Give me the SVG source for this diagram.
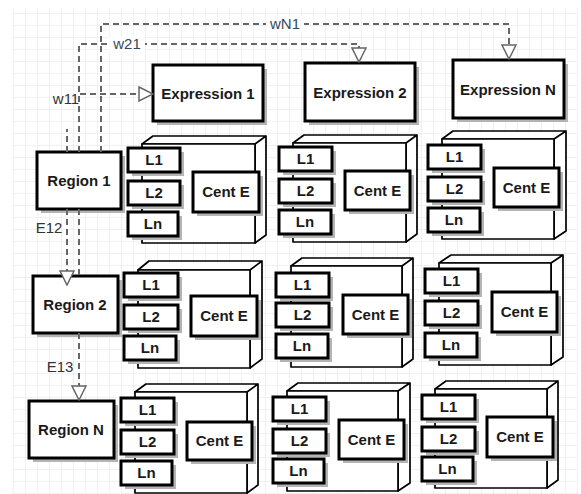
<svg xmlns="http://www.w3.org/2000/svg" width="581" height="494" viewBox="0 0 581 494">
<style>
.bx{fill:#fff;stroke:#000;stroke-width:3}
.sh{fill:#b4b4b4}
.cb{fill:#fff;stroke:#000;stroke-width:1.7;stroke-linejoin:round}
.t{font-family:"Liberation Sans",Arial,sans-serif;font-weight:bold;font-size:15px;text-anchor:middle;fill:#1a1a1a}
.e{fill:none;stroke:#666;stroke-width:2;stroke-dasharray:6 4}
.el{font-family:"Liberation Sans",Arial,sans-serif;font-size:15px;text-anchor:middle}
.bl{fill:#34495e}
.dk{fill:#333}
</style>
<defs>
<pattern id="grid" x="1" y="1" width="12" height="12" patternUnits="userSpaceOnUse">
<path d="M0,0H12M0,0V12" fill="none" stroke="#e4e4ec" stroke-width="1"/>
</pattern>
<marker id="tri" viewBox="0 0 16 16" refX="15" refY="8" markerWidth="16" markerHeight="16" markerUnits="userSpaceOnUse" orient="auto">
<path d="M1,1 L15,8 L1,15 Z" fill="#fff" stroke="#666" stroke-width="1.5"/>
</marker>
</defs>
<rect width="581" height="494" fill="#fff"/>
<rect x="12" y="8" width="566" height="486" fill="url(#grid)"/>

<g id="expr1"><rect class="sh" x="157" y="69" width="110" height="56"/><rect class="bx" x="153" y="65" width="110" height="56"/><text class="t" x="208" y="99">Expression 1</text></g>
<g id="expr2"><rect class="sh" x="309" y="67" width="110" height="58"/><rect class="bx" x="305" y="63" width="110" height="58"/><text class="t" x="360" y="98">Expression 2</text></g>
<g id="exprN"><rect class="sh" x="457" y="64" width="111" height="58"/><rect class="bx" x="453" y="60" width="111" height="58"/><text class="t" x="508" y="95">Expression N</text></g>

<g id="region1"><rect class="sh" x="41" y="156" width="84" height="57"/><rect class="bx" x="37" y="152" width="84" height="57"/><text class="t" x="79" y="186">Region 1</text></g>
<g id="region2"><rect class="sh" x="37" y="280" width="85" height="57"/><rect class="bx" x="33" y="276" width="85" height="57"/><text class="t" x="75" y="310">Region 2</text></g>
<g id="regionN"><rect class="sh" x="33" y="405" width="85" height="57"/><rect class="bx" x="29" y="401" width="85" height="57"/><text class="t" x="71" y="435">Region N</text></g>

<g id="cube11">
<path class="cb" d="M142,144 L153,136 L266,136 L255,144 Z M255,144 L266,136 L266,235 L255,243 Z"/><rect class="cb" x="142" y="144" width="113" height="99"/>
<rect class="sh" x="132" y="152" width="52" height="24"/><rect class="bx" x="128" y="148" width="52" height="24"/><text class="t" x="154" y="165">L1</text>
<rect class="sh" x="132" y="185" width="52" height="24"/><rect class="bx" x="128" y="181" width="52" height="24"/><text class="t" x="154" y="198">L2</text>
<rect class="sh" x="132" y="216" width="50" height="24"/><rect class="bx" x="128" y="212" width="50" height="24"/><text class="t" x="153" y="229">Ln</text>
<rect class="sh" x="197" y="176" width="66" height="40"/><rect class="bx" x="193" y="172" width="66" height="40"/><text class="t" x="226" y="197">Cent E</text>
</g>
<g id="cube12">
<path class="cb" d="M293,143 L304,135 L417,135 L406,143 Z M406,143 L417,135 L417,234 L406,242 Z"/><rect class="cb" x="293" y="143" width="113" height="99"/>
<rect class="sh" x="283" y="151" width="53" height="24"/><rect class="bx" x="279" y="147" width="53" height="24"/><text class="t" x="305.5" y="164">L1</text>
<rect class="sh" x="283" y="183" width="53" height="24"/><rect class="bx" x="279" y="179" width="53" height="24"/><text class="t" x="305.5" y="196">L2</text>
<rect class="sh" x="283" y="214" width="52" height="24"/><rect class="bx" x="279" y="210" width="52" height="24"/><text class="t" x="305" y="227">Ln</text>
<rect class="sh" x="349" y="175" width="65" height="39"/><rect class="bx" x="345" y="171" width="65" height="39"/><text class="t" x="377.5" y="196">Cent E</text>
</g>
<g id="cube13">
<path class="cb" d="M442,139 L453,131 L566,131 L554,139 Z M554,139 L566,131 L566,231 L554,239 Z"/><rect class="cb" x="442" y="139" width="112" height="100"/>
<rect class="sh" x="432" y="149" width="53" height="24"/><rect class="bx" x="428" y="145" width="53" height="24"/><text class="t" x="454.5" y="162">L1</text>
<rect class="sh" x="432" y="181" width="53" height="24"/><rect class="bx" x="428" y="177" width="53" height="24"/><text class="t" x="454.5" y="194">L2</text>
<rect class="sh" x="432" y="212" width="52" height="24"/><rect class="bx" x="428" y="208" width="52" height="24"/><text class="t" x="454" y="225">Ln</text>
<rect class="sh" x="498" y="172" width="65" height="39"/><rect class="bx" x="494" y="168" width="65" height="39"/><text class="t" x="526.5" y="193">Cent E</text>
</g>

<g id="cube21">
<path class="cb" d="M138,270 L149,261 L262,261 L250,270 Z M250,270 L262,261 L262,359 L250,368 Z"/><rect class="cb" x="138" y="270" width="112" height="98"/>
<rect class="sh" x="128" y="277" width="54" height="24"/><rect class="bx" x="124" y="273" width="54" height="24"/><text class="t" x="151" y="290">L1</text>
<rect class="sh" x="128" y="309" width="54" height="24"/><rect class="bx" x="124" y="305" width="54" height="24"/><text class="t" x="151" y="322">L2</text>
<rect class="sh" x="128" y="340" width="52" height="24"/><rect class="bx" x="124" y="336" width="52" height="24"/><text class="t" x="150" y="353">Ln</text>
<rect class="sh" x="195" y="300" width="66" height="40"/><rect class="bx" x="191" y="296" width="66" height="40"/><text class="t" x="224" y="321">Cent E</text>
</g>
<g id="cube22">
<path class="cb" d="M291,266 L302,258 L413,258 L402,266 Z M402,266 L413,258 L413,359 L402,367 Z"/><rect class="cb" x="291" y="266" width="111" height="101"/>
<rect class="sh" x="280" y="277" width="53" height="24"/><rect class="bx" x="276" y="273" width="53" height="24"/><text class="t" x="302.5" y="290">L1</text>
<rect class="sh" x="280" y="307" width="53" height="24"/><rect class="bx" x="276" y="303" width="53" height="24"/><text class="t" x="302.5" y="320">L2</text>
<rect class="sh" x="280" y="338" width="52" height="24"/><rect class="bx" x="276" y="334" width="52" height="24"/><text class="t" x="302" y="351">Ln</text>
<rect class="sh" x="347" y="299" width="65" height="39"/><rect class="bx" x="343" y="295" width="65" height="39"/><text class="t" x="375.5" y="320">Cent E</text>
</g>
<g id="cube23">
<path class="cb" d="M439,263 L451,255 L563,255 L551,263 Z M551,263 L563,255 L563,357 L551,365 Z"/><rect class="cb" x="439" y="263" width="112" height="102"/>
<rect class="sh" x="429" y="273" width="53" height="24"/><rect class="bx" x="425" y="269" width="53" height="24"/><text class="t" x="451.5" y="286">L1</text>
<rect class="sh" x="429" y="305" width="53" height="24"/><rect class="bx" x="425" y="301" width="53" height="24"/><text class="t" x="451.5" y="318">L2</text>
<rect class="sh" x="429" y="337" width="52" height="24"/><rect class="bx" x="425" y="333" width="52" height="24"/><text class="t" x="451" y="350">Ln</text>
<rect class="sh" x="496" y="296" width="65" height="40"/><rect class="bx" x="492" y="292" width="65" height="40"/><text class="t" x="524.5" y="317">Cent E</text>
</g>

<g id="cube31">
<path class="cb" d="M135,392 L146,384 L258,384 L247,392 Z M247,392 L258,384 L258,485 L247,493 Z"/><rect class="cb" x="135" y="392" width="112" height="101"/>
<rect class="sh" x="125" y="402" width="53" height="24"/><rect class="bx" x="121" y="398" width="53" height="24"/><text class="t" x="147.5" y="415">L1</text>
<rect class="sh" x="125" y="434" width="53" height="24"/><rect class="bx" x="121" y="430" width="53" height="24"/><text class="t" x="147.5" y="447">L2</text>
<rect class="sh" x="125" y="465" width="51" height="24"/><rect class="bx" x="121" y="461" width="51" height="24"/><text class="t" x="146.5" y="478">Ln</text>
<rect class="sh" x="191" y="426" width="65" height="38"/><rect class="bx" x="187" y="422" width="65" height="38"/><text class="t" x="219.5" y="446">Cent E</text>
</g>
<g id="cube32">
<path class="cb" d="M287,391 L298,383 L410,383 L398,391 Z M398,391 L410,383 L410,483 L398,491 Z"/><rect class="cb" x="287" y="391" width="111" height="100"/>
<rect class="sh" x="277" y="401" width="53" height="24"/><rect class="bx" x="273" y="397" width="53" height="24"/><text class="t" x="299.5" y="414">L1</text>
<rect class="sh" x="277" y="433" width="53" height="24"/><rect class="bx" x="273" y="429" width="53" height="24"/><text class="t" x="299.5" y="446">L2</text>
<rect class="sh" x="277" y="463" width="51" height="24"/><rect class="bx" x="273" y="459" width="51" height="24"/><text class="t" x="298.5" y="476">Ln</text>
<rect class="sh" x="343" y="424" width="65" height="39"/><rect class="bx" x="339" y="420" width="65" height="39"/><text class="t" x="371.5" y="445">Cent E</text>
</g>
<g id="cube33">
<path class="cb" d="M435,389 L446,381 L558,381 L547,389 Z M547,389 L558,381 L558,480 L547,488 Z"/><rect class="cb" x="435" y="389" width="112" height="99"/>
<rect class="sh" x="426" y="399" width="53" height="24"/><rect class="bx" x="422" y="395" width="53" height="24"/><text class="t" x="448.5" y="412">L1</text>
<rect class="sh" x="426" y="431" width="53" height="24"/><rect class="bx" x="422" y="427" width="53" height="24"/><text class="t" x="448.5" y="444">L2</text>
<rect class="sh" x="426" y="461" width="51" height="24"/><rect class="bx" x="422" y="457" width="51" height="24"/><text class="t" x="447.5" y="474">Ln</text>
<rect class="sh" x="491" y="421" width="66" height="40"/><rect class="bx" x="487" y="417" width="66" height="40"/><text class="t" x="520" y="442">Cent E</text>
</g>

<g id="connectors">
<path class="e" d="M101,152 V24 H509 V59" marker-end="url(#tri)"/>
<path class="e" d="M79,152 V44 H359 V62" marker-end="url(#tri)"/>
<path class="e" d="M67,152 V129"/>
<path class="e" d="M80,94 H153" marker-end="url(#tri)"/>
<path class="e" d="M67,209 V285" marker-end="url(#tri)"/>
<path class="e" d="M79,209 V276 M79,333 V400" marker-end="url(#tri)"/>
<rect x="266" y="16" width="38" height="16" fill="#fff"/>
<text class="el bl" x="285" y="29">wN1</text>
<rect x="109" y="36" width="36" height="16" fill="#fff"/>
<text class="el bl" x="127" y="49">w21</text>
<rect x="51" y="88" width="31" height="12" fill="#fff" opacity="0"/>
<text class="el dk" x="66" y="104">w11</text>
<text class="el dk" x="49" y="233">E12</text>
<text class="el dk" x="60" y="372">E13</text>
</g>
</svg>
